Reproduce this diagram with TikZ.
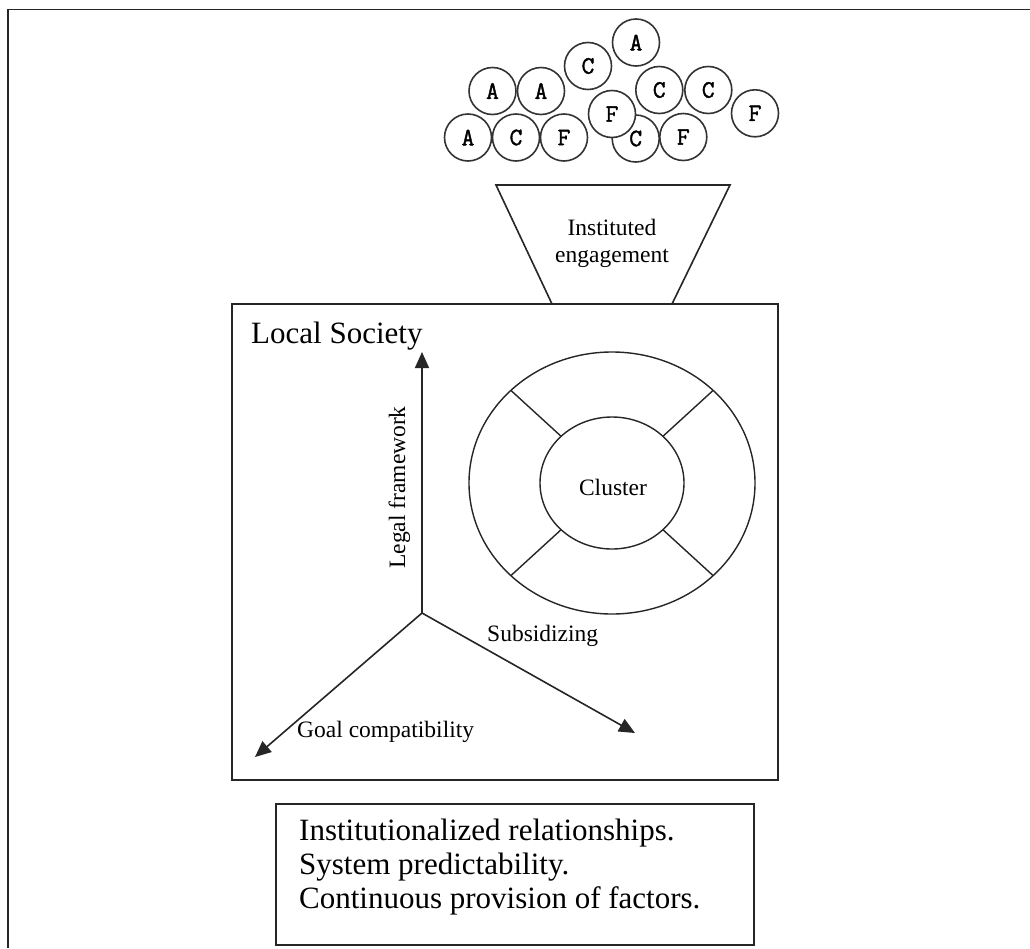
\documentclass[tikz,border=0pt]{standalone}
\usepackage{fontspec}
\setmainfont{Liberation Serif}
\newfontfamily\ballfont[FakeBold=1.5]{Latin Modern Mono}
\usetikzlibrary{arrows.meta,shapes.geometric,calc}

\begin{document}
\begin{tikzpicture}[x=1pt,y=-1pt,
  line/.style={draw=black!85, line width=1.6pt},
  ball/.style={circle, draw=black!80, line width=1.6pt, fill=white,
    minimum size=47pt, inner sep=0pt, font=\ballfont\fontsize{25}{25}\selectfont},
  small/.style={font=\fontsize{23.5}{27}\selectfont, inner sep=0pt},
  big/.style={font=\fontsize{31}{35}\selectfont, inner sep=0pt},
  axis/.style={draw=black!85, line width=1.6pt, -{Triangle[length=16pt,width=14pt]}},
  box/.style={rectangle, draw=black!85, line width=1.6pt, inner sep=0pt},
]
\useasboundingbox (0,0) rectangle (1030,948);
\fill[white] (0,0) rectangle (1030,948);

% page frame: only its top and left sides fall inside the picture
\draw[line] (1030,9.5) -- (8,9.5) -- (8,948);

% the pool of actors (A), companies (C) and factors (F)
\node[ball] (a1) at (636,42.5) {A};
\node[ball] (c1) at (588,66) {C};
\node[ball] (a2) at (492.5,91) {A};
\node[ball] (a3) at (541,91) {A};
\node[ball] (c2) at (659.3,90) {C};
\node[ball] (c3) at (708.3,90) {C};
\node[ball] (f1) at (755,113.3) {F};
\node[ball] (a4) at (468,137.5) {A};
\node[ball] (c4) at (516,137.5) {C};
\node[ball] (f2) at (564,137.5) {F};
\node[ball] (c5) at (635.7,138.5) {C};
\node[ball] (f3) at (683.3,137) {F};
\node[ball] (f4) at (612,114) {F};

% funnel
\coordinate (ftl) at (496,185);
\coordinate (ftr) at (730,185);
\coordinate (fbr) at (672,304);
\coordinate (fbl) at (552,304);
\draw[line, line join=miter] (fbl) -- (ftl) -- (ftr) -- (fbr);
\node[small, anchor=base] (inst1) at (612,235) {Instituted};
\node[small, anchor=base] (inst2) at (612,262) {engagement};

% local society frame
\node[box, minimum width=546pt, minimum height=476pt] (society) at (505,542) {};
\node[big, anchor=base west] (soclabel) at (251,343) {Local Society};

% three axes
\coordinate (o) at (422,613);
\coordinate (tipup) at (422,352);
\coordinate (tipleft) at (255,757);
\coordinate (tipright) at (635,733);
\draw[axis] (o) -- (tipup);
\draw[axis] (o) -- (tipleft);
\draw[axis] (o) -- (tipright);
\node[small, rotate=90, anchor=base] (legal) at (405,487.5) {Legal framework};
\node[small, anchor=base west] (subs) at (487,641.7) {Subsidizing};
\node[small, anchor=base west] (goal) at (297,737) {Goal compatibility};

% cluster ring
\coordinate (cc) at (612,483);
\draw[line, line width=1.4pt] (cc) ellipse [x radius=143pt, y radius=131pt];
\draw[line, line width=1.4pt] (cc) ellipse [x radius=72pt, y radius=66pt];
\foreach \sx/\sy in {1/1, -1/1, 1/-1, -1/-1}{
  \draw[line, line width=1.4pt] ($(cc)+(\sx*50.9,\sy*46.7)$) -- ($(cc)+(\sx*101.1,\sy*92.6)$);
}
\node[small, anchor=base] (cluster) at (613,495) {Cluster};

% outcomes
\node[box, minimum width=478pt, minimum height=141pt] (outcomes) at (515,874.5) {};
\node[big, anchor=base west] (out1) at (299,840) {Institutionalized relationships.};
\node[big, anchor=base west] (out2) at (299,874) {System predictability.};
\node[big, anchor=base west] (out3) at (299,908) {Continuous provision of factors.};
\end{tikzpicture}
\end{document}
